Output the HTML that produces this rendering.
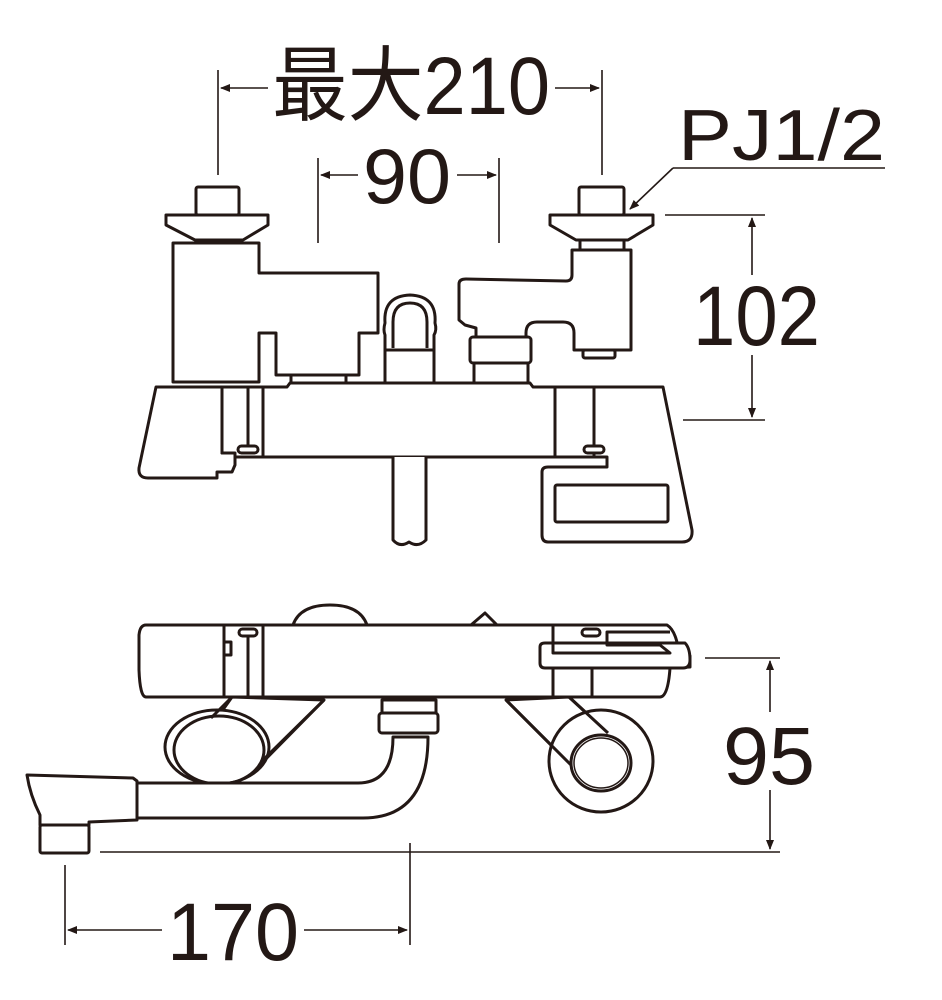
<!DOCTYPE html>
<html><head><meta charset="utf-8"><style>
html,body{margin:0;padding:0;background:#fff;}
svg{display:block;}
text{font-family:"Liberation Sans","Noto Sans CJK JP",sans-serif;fill:#231815;}
</style></head><body>
<svg width="942" height="1000" viewBox="0 0 942 1000" xmlns="http://www.w3.org/2000/svg">
<defs>
<marker id="ar" markerWidth="10" markerHeight="8" refX="9" refY="4" orient="auto" markerUnits="userSpaceOnUse" viewBox="0 0 10 8">
<path d="M0,0 L10,4 L0,8 Z" fill="#231815"/></marker>
</defs>
<g fill="none" stroke="#231815" stroke-width="1.6">
<line x1="218" y1="70" x2="218" y2="175"/>
<line x1="602" y1="70" x2="602" y2="175"/>
<line x1="268" y1="88" x2="221" y2="88" marker-end="url(#ar)"/>
<line x1="555" y1="88" x2="599" y2="88" marker-end="url(#ar)"/>
<line x1="318" y1="158" x2="318" y2="243"/>
<line x1="499" y1="158" x2="499" y2="243"/>
<line x1="358" y1="175" x2="321" y2="175" marker-end="url(#ar)"/>
<line x1="457" y1="175" x2="496" y2="175" marker-end="url(#ar)"/>
<line x1="885" y1="168" x2="673" y2="168"/>
<line x1="673" y1="168" x2="630" y2="209" marker-end="url(#ar)"/>
<line x1="665" y1="215" x2="765" y2="215"/>
<line x1="683" y1="420" x2="765" y2="420"/>
<line x1="752" y1="275" x2="752" y2="218" marker-end="url(#ar)"/>
<line x1="752" y1="355" x2="752" y2="417" marker-end="url(#ar)"/>
<line x1="705" y1="658" x2="780" y2="658"/>
<line x1="100" y1="852" x2="780" y2="852"/>
<line x1="770" y1="712" x2="770" y2="661" marker-end="url(#ar)"/>
<line x1="770" y1="790" x2="770" y2="849" marker-end="url(#ar)"/>
<line x1="65" y1="865" x2="65" y2="945"/>
<line x1="410" y1="843" x2="410" y2="945"/>
<line x1="162" y1="930" x2="68" y2="930" marker-end="url(#ar)"/>
<line x1="304" y1="930" x2="407" y2="930" marker-end="url(#ar)"/>
</g>
<g stroke="#231815" stroke-width="3" fill="#fff" stroke-linejoin="round">
<path d="M156,387 L139,468 Q138,478 148,478 L217,478 L217,472 L232,472 L235,465 L235,453 L222,453 L222,387 Z"/>
<path d="M663,387 L692,530 Q693,542 682,542 L548,542 Q542,542 542,535 L542,472 Q542,467 548,467 L607,467 L607,457 L594,457 L594,387 Z"/>
<rect x="555" y="485" width="113" height="37" rx="2"/>
<path d="M222,387 L287,387 L290,383 L530,383 L533,387 L594,387 L594,457 L235,457 L235,453 L222,453 Z"/>
<line x1="263" y1="387" x2="263" y2="457"/>
<line x1="555" y1="387" x2="555" y2="457"/>
<line x1="248" y1="387" x2="248" y2="446"/>
<line x1="594" y1="387" x2="594" y2="446"/>
<rect x="238" y="446" width="20" height="7" rx="3.5"/>
<rect x="584" y="446" width="20" height="7" rx="3.5"/>
<path d="M393,457 L393,540 Q400,548 409,542 Q418,548 426,540 L426,457"/>
<rect x="196" y="187" width="43" height="28" rx="2"/>
<path d="M166,215 L268,215 L268,225 L243,240 L195,240 L166,225 Z"/>
<rect x="200" y="240" width="40" height="4"/>
<path d="M173,243 L259,243 L259,273 L378,273 L378,333 L359,333 L359,375 L276,375 L276,333 L259,333 L259,382 L173,382 Z"/>
<rect x="291" y="375" width="55" height="8"/>
<path d="M385,350 L385,335 Q383,330 385,323 Q383,296 410,295 Q437,296 435,323 Q437,330 434,335 L434,350" />
<path d="M393,348 L393,322 Q393,303 410,303 Q427,303 427,322 L427,348" fill="none"/>
<rect x="385" y="350" width="49" height="33"/>
<rect x="579" y="187" width="45" height="28" rx="2"/>
<path d="M550,215 L653,215 L653,225 L628,240 L576,240 L550,225 Z"/>
<rect x="580" y="240" width="44" height="10"/>
<path d="M572,250 L631,250 L631,350 L574,350 L574,333 Q574,322 563,322 L537,322 Q526,322 526,333 L526,337 L476,337 L476,328 L465,325 L459,320 L459,284 Q459,279 466,279 Q520,280 566,281 Q572,281 572,275 Z"/>
<rect x="583" y="350" width="32" height="8" rx="2"/>
<rect x="470" y="337" width="61" height="26" rx="3"/>
<rect x="474" y="363" width="54" height="20"/>
<!-- BOTTOM VIEW -->
<path d="M293,625 Q300,605 330,605 Q360,605 367,625 Z"/>
<path d="M471,625 L485,613 L497,625 Z"/>
<path d="M232,697 L205,735 L250,775 L324,700 Z"/>
<path d="M506,700 L571,765 L608,733 L569,697 Z"/>
<ellipse cx="217" cy="747" rx="52" ry="37"/>
<ellipse cx="219" cy="750" rx="45" ry="34" fill="none"/>
<line x1="324" y1="700" x2="261" y2="762"/>
<line x1="232" y1="697" x2="211" y2="718"/>
<ellipse cx="601" cy="761" rx="52" ry="51"/>
<path d="M506,700 L571,765" fill="none"/>
<path d="M569,697 L608,733" fill="none"/>
<ellipse cx="601" cy="763" rx="30" ry="28"/>
<ellipse cx="601" cy="763" rx="27" ry="25" fill="none" stroke-width="1.5"/>
<path d="M146,625 L667,625 Q675,630 678,647 L690,656 L690,667 L670,668 Q668,697 660,697 L146,697 Q140,697 139,670 L139,635 Q140,625 146,625 Z"/>
<line x1="224" y1="625" x2="224" y2="697"/>
<line x1="263" y1="625" x2="263" y2="697"/>
<line x1="248" y1="636" x2="248" y2="697"/>
<rect x="239" y="629" width="18" height="7" rx="3.5"/>
<path d="M224,642 L231,642 L231,655 L224,655" fill="none"/>
<line x1="553" y1="625" x2="553" y2="697"/>
<line x1="592" y1="668" x2="592" y2="697"/>
<rect x="582" y="629" width="18" height="7" rx="3.5"/>
<path d="M540,647 Q540,643 545,643 L685,643 Q690,648 690,660 Q690,668 683,668 L545,668 Q540,668 540,663 Z"/>
<path d="M553,643 L553,653 L670,653 L660,645 L607,645 L607,632 L670,632" fill="none"/>
<rect x="382" y="700" width="54" height="13"/>
<rect x="379" y="713" width="59" height="20" rx="3"/>
<path d="M137,783 L358,783 Q393,783 393,737 L428,737 Q428,818 363,818 L137,818 Z"/>
<path d="M27,775 L133,778 L137,781 L137,820 L89,822 L89,825 L40,825 L40,815 Q30,795 27,775 Z"/>
<rect x="40" y="825" width="49" height="28" rx="2"/>
</g>
<text x="272" y="114" font-size="82" textLength="278" lengthAdjust="spacingAndGlyphs">最大210</text>
<text x="363" y="203" font-size="78" textLength="88" lengthAdjust="spacingAndGlyphs">90</text>
<text x="678" y="160" font-size="72" textLength="207" lengthAdjust="spacingAndGlyphs">PJ1/2</text>
<text x="693" y="345" font-size="84" textLength="127" lengthAdjust="spacingAndGlyphs">102</text>
<text x="723" y="784" font-size="82" textLength="92" lengthAdjust="spacingAndGlyphs">95</text>
<text x="167" y="960" font-size="82" textLength="132" lengthAdjust="spacingAndGlyphs">170</text>
</svg>
</body></html>
